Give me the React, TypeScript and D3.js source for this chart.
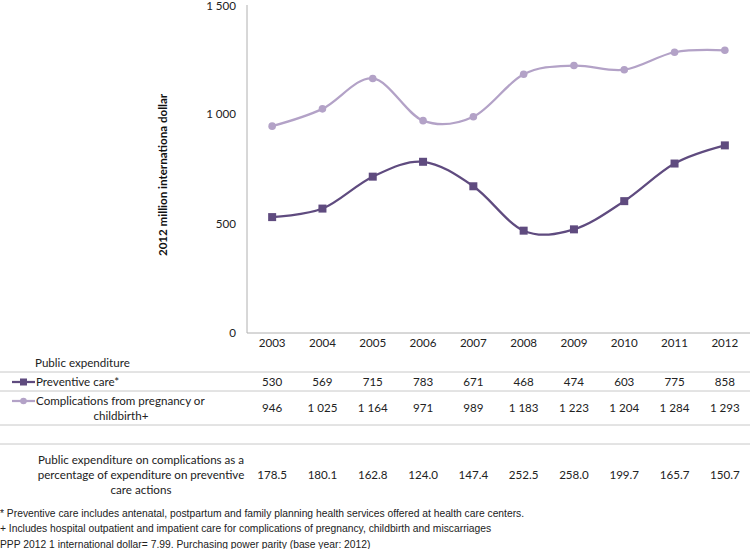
import React from "react";
import * as d3 from "d3";

const years = ["2003", "2004", "2005", "2006", "2007", "2008", "2009", "2010", "2011", "2012"];
const preventive = [530, 569, 715, 783, 671, 468, 474, 603, 775, 858];
const complications = [946, 1025, 1164, 971, 989, 1183, 1223, 1204, 1284, 1293];
const percentage = ["178.5", "180.1", "162.8", "124.0", "147.4", "252.5", "258.0", "199.7", "165.7", "150.7"];
const yTicks = [0, 500, 1000, 1500];
const footnotes = [
  "* Preventive care includes antenatal, postpartum and family planning health services offered at health care centers.",
  "+ Includes hospital outpatient and impatient care for complications of pregnancy, childbirth and miscarriages",
  "PPP 2012 1 international dollar= 7.99. Purchasing power parity (base year: 2012)",
];

const W = 750;
const H = 549;
const DARK = "#5f4b7f";
const LIGHT = "#b3a2c7";
const AXIS = "#b0b0b0";
const FONT = "Lato, 'Open Sans', sans-serif";
const FS = 11.6;

const fmt = (v: number) => {
  const s = String(v);
  return s.length > 3 ? s.slice(0, s.length - 3) + " " + s.slice(-3) : s;
};

export default function App() {
  const x = d3.scaleBand<string>().domain(years).range([247, 750]);
  const y = d3.scaleLinear().domain([0, 1500]).range([333, 5]);
  const cx = (d: string) => (x(d) ?? 0) + x.bandwidth() / 2;
  const line = d3
    .line<number>()
    .x((_, i) => cx(years[i]))
    .y((d) => y(d))
    .curve(d3.curveCardinal.tension(0));

  const tableLines = [372, 391, 425, 444];

  return (
    <svg
      width={W}
      height={H}
      style={{ position: "absolute", left: 0, top: 0, background: "#fff" }}
      fontFamily={FONT}
    >
      <rect width={W} height={H} fill="#fff" />
      {/* axes */}
      <line x1={247} x2={247} y1={y(1500)} y2={y(0)} stroke={AXIS} strokeWidth={1} />
      <line x1={247} x2={750} y1={y(0)} y2={y(0)} stroke={AXIS} strokeWidth={1} />
      {yTicks.map((t) => (
        <text key={t} x={236} y={Math.max(y(t), 6)} dy="0.35em" textAnchor="end" fontSize={FS} fill="#222">
          {fmt(t)}
        </text>
      ))}
      {years.map((yr) => (
        <text key={yr} x={cx(yr)} y={343} dy="0.35em" textAnchor="middle" fontSize={FS} fill="#222">
          {yr}
        </text>
      ))}
      <text
        transform={`translate(163,175) rotate(-90)`}
        textAnchor="middle"
        dy="0.35em"
        fontSize={FS}
        fontWeight="bold"
        fill="#111"
      >
        2012 million internationa dollar
      </text>

      {/* lines */}
      <path d={line(complications) ?? ""} fill="none" stroke={LIGHT} strokeWidth={2.25} />
      <path d={line(preventive) ?? ""} fill="none" stroke={DARK} strokeWidth={2.25} />
      {complications.map((v, i) => (
        <circle key={"c" + i} cx={cx(years[i])} cy={y(v)} r={3.8} fill={LIGHT} />
      ))}
      {preventive.map((v, i) => (
        <rect key={"p" + i} x={cx(years[i]) - 4} y={y(v) - 4} width={8} height={8} fill={DARK} />
      ))}

      {/* table */}
      {tableLines.map((ly) => (
        <line key={ly} x1={0} x2={750} y1={ly} y2={ly} stroke="#c8c8c8" strokeWidth={1} />
      ))}
      <text x={35} y={363} dy="0.35em" fontSize={FS} fill="#222">Public expenditure</text>
      <line x1={12} x2={35} y1={382} y2={382} stroke={DARK} strokeWidth={2.25} />
      <rect x={20} y={378.5} width={7} height={7} fill={DARK} />
      <text x={36} y={382} dy="0.35em" fontSize={FS} fill="#222">Preventive care*</text>
      <line x1={12} x2={35} y1={401} y2={401} stroke={LIGHT} strokeWidth={2.25} />
      <circle cx={23.5} cy={401} r={3.3} fill={LIGHT} />
      <text x={36} y={401} dy="0.35em" fontSize={FS} fill="#222">Complications from pregnancy or</text>
      <text x={121} y={416} dy="0.35em" textAnchor="middle" fontSize={FS} fill="#222">childbirth+</text>
      {years.map((yr, i) => (
        <g key={"t" + yr}>
          <text x={cx(yr)} y={382} dy="0.35em" textAnchor="middle" fontSize={FS} fill="#222">
            {fmt(preventive[i])}
          </text>
          <text x={cx(yr)} y={408} dy="0.35em" textAnchor="middle" fontSize={FS} fill="#222">
            {fmt(complications[i])}
          </text>
          <text x={cx(yr)} y={475} dy="0.35em" textAnchor="middle" fontSize={FS} fill="#222">
            {percentage[i]}
          </text>
        </g>
      ))}
      <text x={141} y={460} dy="0.35em" textAnchor="middle" fontSize={FS} fill="#222">
        Public expenditure on complications as a
      </text>
      <text x={141} y={475} dy="0.35em" textAnchor="middle" fontSize={FS} fill="#222">
        percentage of expenditure on preventive
      </text>
      <text x={141} y={490} dy="0.35em" textAnchor="middle" fontSize={FS} fill="#222">
        care actions
      </text>

      {/* footnotes */}
      {footnotes.map((f, i) => (
        <text
          key={i}
          x={0}
          y={513 + i * 15.5}
          dy="0.35em"
          fontSize={10.3}
          fontFamily="'Liberation Sans', Arial, sans-serif"
          fill="#222"
        >
          {f}
        </text>
      ))}
    </svg>
  );
}
